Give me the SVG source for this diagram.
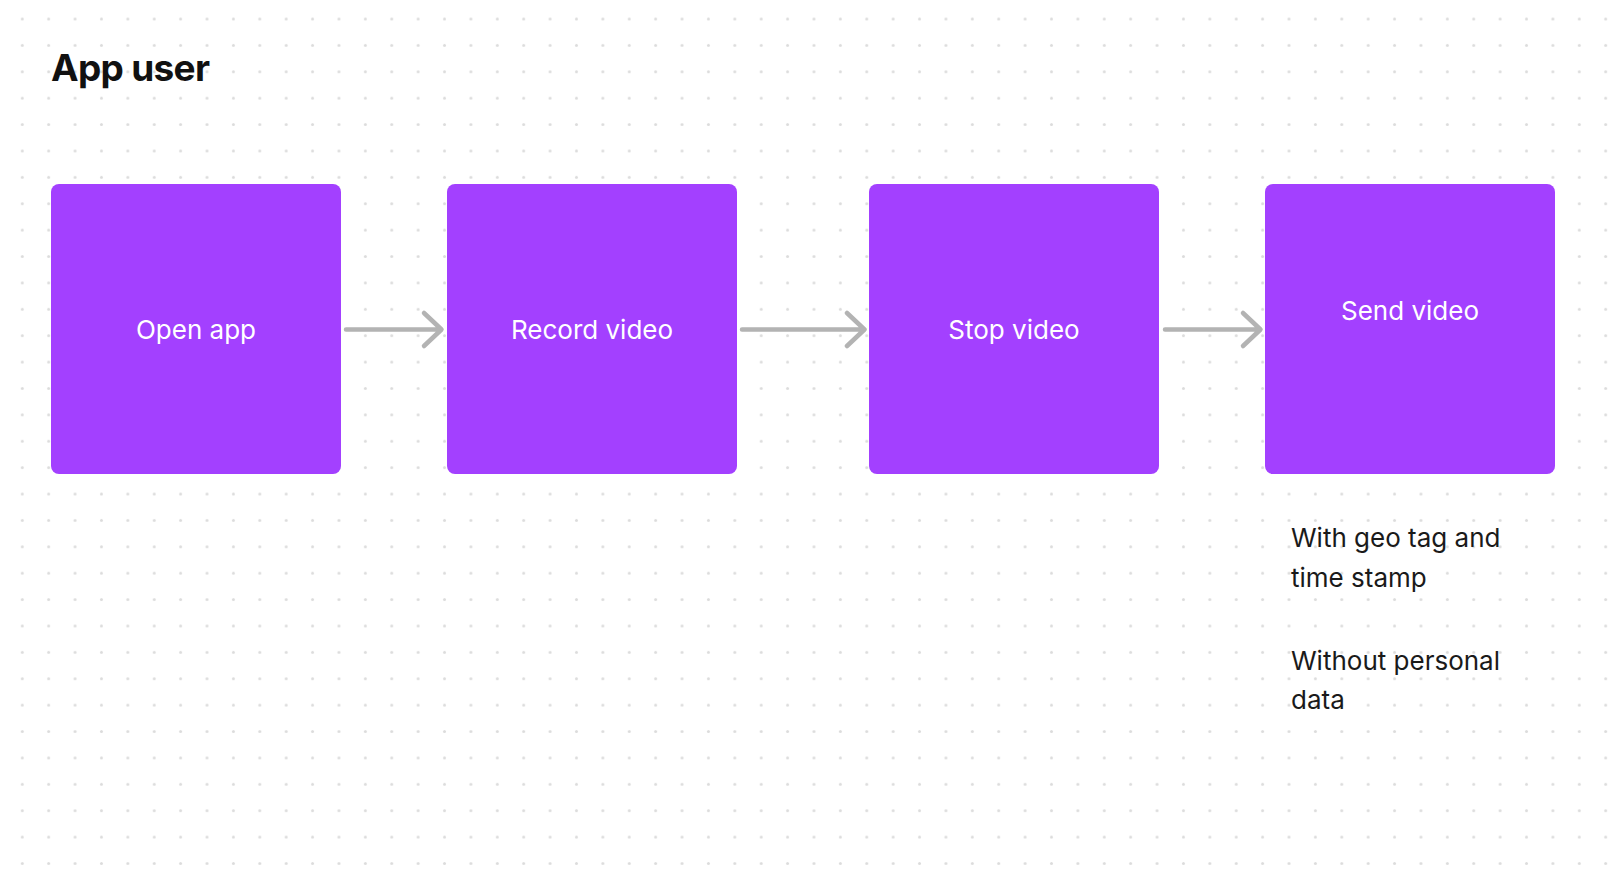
<svg xmlns="http://www.w3.org/2000/svg" width="1616" height="876" viewBox="0 0 1616 876">
  <style>
    .node rect { fill: #A340FF; }
    .node text { fill: #FFFFFF; font-family: Inter, "Noto Sans", sans-serif; font-size: 26px; text-anchor: middle; }
    .title { fill: #111111; font-family: Inter, "Noto Sans", sans-serif; font-size: 37px; font-weight: 700; letter-spacing: -0.7px; }
    .note { fill: #1A1A1A; font-family: Inter, "Noto Sans", sans-serif; font-size: 26px; }
    .conn { fill: none; stroke: #B3B3B3; stroke-width: 4.5; stroke-linecap: round; stroke-linejoin: round; }
  </style>
  <defs>
    <pattern id="dots" patternUnits="userSpaceOnUse" x="9.1" y="5.8" width="26.39" height="26.39">
      <circle cx="13.2" cy="13.2" r="1.5" fill="#DCDCDC"/>
    </pattern>
  </defs>
  <rect x="0" y="0" width="1616" height="876" fill="#FFFFFF"/>
  <rect x="0" y="0" width="1616" height="876" fill="url(#dots)"/>

  <text id="title" class="title" x="51" y="81">App user</text>

  <g id="connectors">
    <path class="conn" d="M346 329.5 H441 M424 313 L441.5 329.5 L424 346"/>
    <path class="conn" d="M742 329.5 H864 M847 313 L864.5 329.5 L847 346"/>
    <path class="conn" d="M1165 329.5 H1260 M1243 313 L1260.5 329.5 L1243 346"/>
  </g>

  <g id="node-open-app" class="node">
    <rect x="51" y="184" width="290" height="290" rx="8"/>
    <text x="196" y="339">Open app</text>
  </g>
  <g id="node-record-video" class="node">
    <rect x="447" y="184" width="290" height="290" rx="8"/>
    <text x="592" y="339">Record video</text>
  </g>
  <g id="node-stop-video" class="node">
    <rect x="869" y="184" width="290" height="290" rx="8"/>
    <text x="1014" y="339">Stop video</text>
  </g>
  <g id="node-send-video" class="node">
    <rect x="1265" y="184" width="290" height="290" rx="8"/>
    <text x="1410" y="320">Send video</text>
  </g>

  <g id="notes">
    <text class="note" x="1291" y="547">With geo tag and</text>
    <text class="note" x="1291" y="587">time stamp</text>
    <text class="note" x="1291" y="670">Without personal</text>
    <text class="note" x="1291" y="709">data</text>
  </g>
</svg>
